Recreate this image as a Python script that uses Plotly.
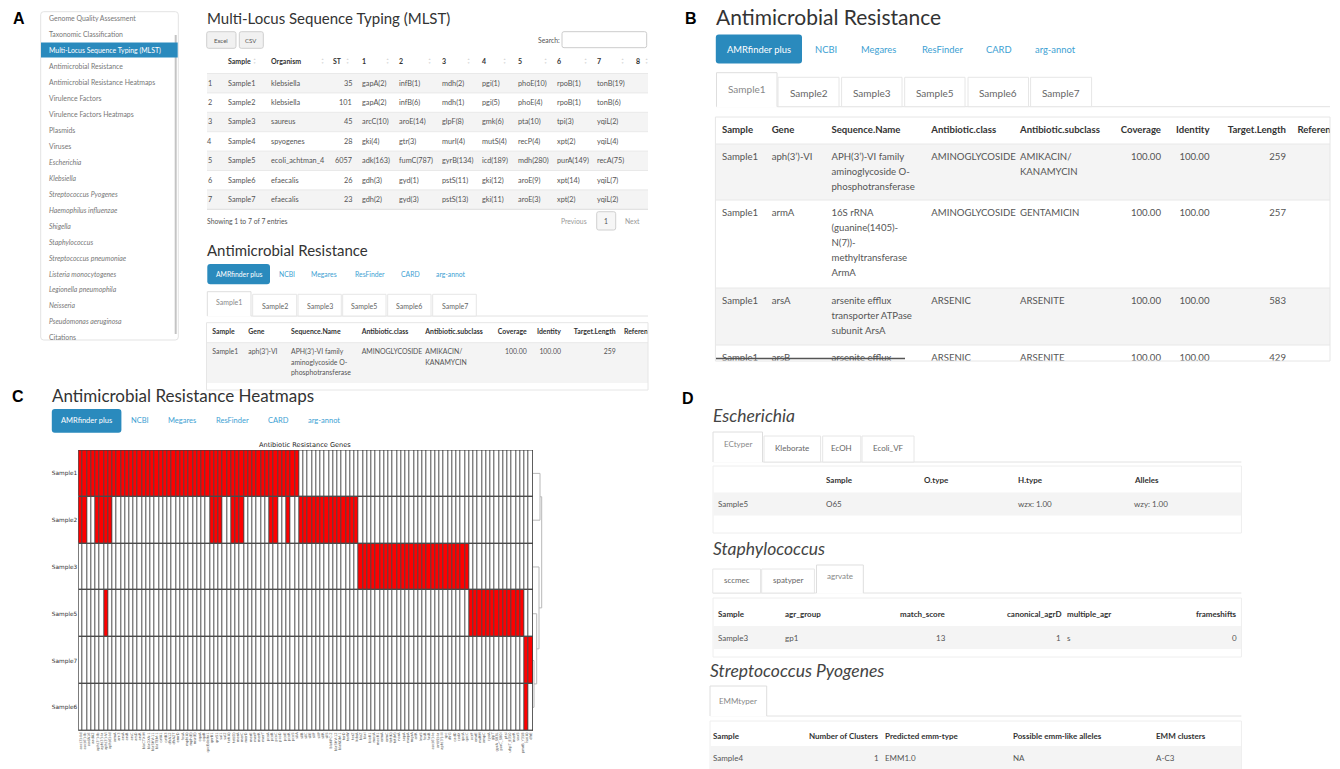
import plotly.graph_objects as go

W, H = 1340, 769

# ---------------------------------------------------------------- data
nav_items = ["Genome Quality Assessment", "Taxonomic Classification",
             "Multi-Locus Sequence Typing (MLST)", "Antimicrobial Resistance",
             "Antimicrobial Resistance Heatmaps", "Virulence Factors",
             "Virulence Factors Heatmaps", "Plasmids", "Viruses", "Escherichia",
             "Klebsiella", "Streptococcus Pyogenes", "Haemophilus influenzae",
             "Shigella", "Staphylococcus", "Streptococcus pneumoniae",
             "Listeria monocytogenes", "Legionella pneumophila", "Neisseria",
             "Pseudomonas aeruginosa", "Citations"]
nav_organisms = nav_items[9:20]
nav_active = "Multi-Locus Sequence Typing (MLST)"

mlst_headers = ["", "Sample", "Organism", "ST", "1", "2", "3", "4", "5", "6", "7", "8"]
mlst_samples = ["Sample1", "Sample2", "Sample3", "Sample4", "Sample5", "Sample6", "Sample7"]
mlst_organism = ["klebsiella", "klebsiella", "saureus", "spyogenes",
                 "ecoli_achtman_4", "efaecalis", "efaecalis"]
mlst_st = [35, 101, 45, 28, 6057, 26, 23]
mlst_alleles = [
    ["gapA(2)", "infB(1)", "mdh(2)", "pgi(1)", "phoE(10)", "rpoB(1)", "tonB(19)"],
    ["gapA(2)", "infB(6)", "mdh(1)", "pgi(5)", "phoE(4)", "rpoB(1)", "tonB(6)"],
    ["arcC(10)", "aroE(14)", "glpF(8)", "gmk(6)", "pta(10)", "tpi(3)", "yqiL(2)"],
    ["gki(4)", "gtr(3)", "murI(4)", "mutS(4)", "recP(4)", "xpt(2)", "yqiL(4)"],
    ["adk(163)", "fumC(787)", "gyrB(134)", "icd(189)", "mdh(280)", "purA(149)", "recA(75)"],
    ["gdh(3)", "gyd(1)", "pstS(11)", "gki(12)", "aroE(9)", "xpt(14)", "yqiL(7)"],
    ["gdh(2)", "gyd(3)", "pstS(13)", "gki(11)", "aroE(3)", "xpt(2)", "yqiL(2)"],
]

amr_tools = ["AMRfinder plus", "NCBI", "Megares", "ResFinder", "CARD", "arg-annot"]
amr_sample_tabs = ["Sample1", "Sample2", "Sample3", "Sample5", "Sample6", "Sample7"]
amr_columns = ["Sample", "Gene", "Sequence.Name", "Antibiotic.class",
               "Antibiotic.subclass", "Coverage", "Identity", "Target.Length", "Reference"]
amr_sample = ["Sample1", "Sample1", "Sample1", "Sample1"]
amr_gene = ["aph(3’)-VI", "armA", "arsA", "arsB"]
amr_seq_name = [["APH(3’)-VI family", "aminoglycoside O-", "phosphotransferase"],
                ["16S rRNA", "(guanine(1405)-", "N(7))-", "methyltransferase", "ArmA"],
                ["arsenite efflux", "transporter ATPase", "subunit ArsA"],
                ["arsenite efflux"]]
amr_class = ["AMINOGLYCOSIDE", "AMINOGLYCOSIDE", "ARSENIC", "ARSENIC"]
amr_subclass = [["AMIKACIN/", "KANAMYCIN"], ["GENTAMICIN"], ["ARSENITE"], ["ARSENITE"]]
amr_coverage = [100.00, 100.00, 100.00, 100.00]
amr_identity = [100.00, 100.00, 100.00, 100.00]
amr_target_length = [259, 257, 583, 429]

heatmap_samples = ["Sample1", "Sample2", "Sample3", "Sample5", "Sample7", "Sample6"]
heatmap_genes = [
    "aac(3)-IId", "aac(6')-Ib", "aadA16", "aadA2", "aph(3'')-Ib", "aph(3')-Ia", "aph(3')-VI",
    "aph(6)-Id", "armA", "arr-3", "arsA", "arsB", "arsC", "arsD", "arsR", "blaCTX-M",
    "blaOXA-1", "blaSHV-11", "blaTEM-1", "catA1", "catB3", "dfrA12", "dfrA27", "emrD", "fosA",
    "mph(A)", "mph(E)", "msr(E)", "oqxA", "oqxB", "qacEdelta1", "qnrB1", "qnrS1", "sul1", "sul2",
    "tet(A)", "tet(D)", "merA", "merC", "merD", "merE", "merP", "merR", "merT", "pcoA", "pcoB",
    "pcoC", "pcoD", "pcoE", "pcoR", "pcoS", "silA",
    "silB", "silC", "silE", "silF", "silP", "silR", "silS", "blaKPC-2", "blaSHV-12", "blaNDM-1",
    "terD", "terW", "terZ", "kdeA",
    "blaZ", "blaI", "blaR1", "mecA", "mecR1", "ermA", "ermC", "tet(K)", "tet(M)", "norA", "sepA",
    "mepA", "mgrA", "arlR", "lmrS", "fosB", "fusB", "aac(6')-Ie", "ant(9)-Ia",
    "aph(3')-III", "spc", "dfrG", "cadD", "cadX", "qacA", "qacC",
    "acrF", "emrE", "mdtM", "ampC", "cyaA", "glpT", "gyrA_S83L", "parC_S80I", "ptsI",
    "uhpT_E350", "marR", "soxS", "pmrB_Y358",
    "lsa(A)", "dfrE"]
# gene presence per sample, written in blocks of ten genes
presence = {
    "Sample1": "1111111111 1111111111 1111111111 1111111111 1111111111 1100000000 0000000000 0000000000 0000000000 0000000000 0000000",
    "Sample2": "1100111100 0000000000 0000000000 0111001110 0000011001 0011111111 1111110000 0000000000 0000000000 0000000000 0000000",
    "Sample3": "0000000000 0000000000 0000000000 0000000000 0000000000 0000000000 0000001111 1111111111 1111111111 1100000000 0000000",
    "Sample5": "0000001000 0000000000 0000000000 0000000000 0000000000 0000000000 0000000000 0000000000 0000000000 0011111111 1111100",
    "Sample7": "0000000000 0000000000 0000000000 0000000000 0000000000 0000000000 0000000000 0000000000 0000000000 0000000000 0000011",
    "Sample6": "0000000000 0000000000 0000000000 0000000000 0000000000 0000000000 0000000000 0000000000 0000000000 0000000000 0000010",
}
# hierarchical clustering of the samples: (left, right, height, node)
dendro_merges = [("Sample7", "Sample6", 1.0, "n1"),
                 ("Sample5", "n1", 3.7, "n2"),
                 ("Sample3", "n2", 6.0, "n3"),
                 ("Sample1", "Sample2", 7.0, "n4"),
                 ("n4", "n3", 8.7, "n5")]

esc_tabs = ["ECtyper", "Kleborate", "EcOH", "Ecoli_VF"]
esc_header = ["", "Sample", "O.type", "H.type", "Alleles"]
esc_row = ["Sample5", "O65", "", "wzx: 1.00", "wzy: 1.00"]
staph_tabs = ["sccmec", "spatyper", "agrvate"]
staph_header = ["Sample", "agr_group", "match_score", "canonical_agrD", "multiple_agr", "frameshifts"]
staph_row = ["Sample3", "gp1", "13", "1", "s", "0"]
strep_tabs = ["EMMtyper"]
strep_header = ["Sample", "Number of Clusters", "Predicted emm-type",
                "Possible emm-like alleles", "EMM clusters"]
strep_row = ["Sample4", "1", "EMM1.0", "NA", "A-C3"]

# ---------------------------------------------------------------- style
FONT = "Lato, 'Open Sans', sans-serif"
MPL = "'DejaVu Sans', sans-serif"
LETTER = "'Liberation Sans', Arial, sans-serif"
BLUE = "#2a8abd"
LINK = "#3d9fd3"
TXT = "#555555"
HEAD = "#333333"
STRIPE = "#f4f4f4"
LINE = "#e4e4e4"

shapes, annotations = [], []
clip_text = {}


def X(v):
    return v / W


def Y(v):
    return 1 - v / H


def label(x, y, s, size, color=TXT, anchor="left", bold=False, italic=False, family=FONT):
    if bold:
        s = "<b>%s</b>" % s
    if italic:
        s = "<i>%s</i>" % s
    annotations.append(dict(x=X(x), y=Y(y), xref="paper", yref="paper", text=s,
                            showarrow=False, xanchor=anchor, yanchor="middle",
                            borderpad=0, borderwidth=0,
                            font=dict(family=family, size=size, color=color)))


def rect(x0, y0, x1, y1, fill="rgba(0,0,0,0)", line=None, lw=1):
    shapes.append(dict(type="rect", xref="paper", yref="paper", x0=X(x0), x1=X(x1),
                       y0=Y(y0), y1=Y(y1), fillcolor=fill,
                       line=dict(color=line or "rgba(0,0,0,0)", width=lw if line else 0)))


def hline(x0, x1, y, color=LINE, lw=1):
    shapes.append(dict(type="line", xref="paper", yref="paper", x0=X(x0), x1=X(x1),
                       y0=Y(y), y1=Y(y), line=dict(color=color, width=lw)))


def vline(x, y0, y1, color=LINE, lw=1):
    shapes.append(dict(type="line", xref="paper", yref="paper", x0=X(x), x1=X(x),
                       y0=Y(y0), y1=Y(y1), line=dict(color=color, width=lw)))


def rrect(x0, y0, x1, y1, r, fill, line=None, lw=1):
    p = ("M%f,%f L%f,%f Q%f,%f %f,%f L%f,%f Q%f,%f %f,%f L%f,%f Q%f,%f %f,%f "
         "L%f,%f Q%f,%f %f,%f Z" % (
             X(x0 + r), Y(y0), X(x1 - r), Y(y0), X(x1), Y(y0), X(x1), Y(y0 + r),
             X(x1), Y(y1 - r), X(x1), Y(y1), X(x1 - r), Y(y1),
             X(x0 + r), Y(y1), X(x0), Y(y1), X(x0), Y(y1 - r),
             X(x0), Y(y0 + r), X(x0), Y(y0), X(x0 + r), Y(y0)))
    shapes.append(dict(type="path", xref="paper", yref="paper", path=p, fillcolor=fill,
                       line=dict(color=line or "rgba(0,0,0,0)", width=lw if line else 0)))


def ctext(ax, x, y, s, size, color=TXT, anchor="left", bold=False):
    if bold:
        s = "<b>%s</b>" % s
    key = (ax, anchor, size, color)
    clip_text.setdefault(key, ([], [], []))
    clip_text[key][0].append(x)
    clip_text[key][1].append(y)
    clip_text[key][2].append(s)


def cband(ax, x0, x1, y0, y1, fill):
    shapes.append(dict(type="rect", xref="x" + ax, yref="y" + ax, x0=x0, x1=x1, y0=y0, y1=y1,
                       fillcolor=fill, line=dict(width=0), layer="below"))


def tool_row(btn, centers, y, size):
    rrect(btn[0], btn[1], btn[2], btn[3], 3, BLUE)
    for i, name in enumerate(amr_tools):
        label(centers[i], y, name, size, "#ffffff" if i == 0 else LINK, anchor="center")


def tab_row(names, boxes, active, tops, bottom, text_y, x_end, size):
    hline(boxes[0][0], x_end, bottom, "#e2e2e2")
    for i, name in enumerate(names):
        x0, x1 = boxes[i]
        if i == active:
            rect(x0, tops[0], x1, bottom + 0.8, "#ffffff")
            shapes.append(dict(type="path", xref="paper", yref="paper",
                               path="M%f,%f L%f,%f L%f,%f L%f,%f" % (
                                   X(x0), Y(bottom), X(x0), Y(tops[0]),
                                   X(x1), Y(tops[0]), X(x1), Y(bottom)),
                               line=dict(color="#dedede", width=1)))
            label((x0 + x1) / 2, text_y[0], name, size, "#888888", anchor="center")
        else:
            rect(x0, tops[1], x1, bottom, "#ffffff", "#e6e6e6")
            label((x0 + x1) / 2, text_y[1], name, size, "#666666", anchor="center")


# ---------------------------------------------------------------- panel letters
for ch, (lx, ly) in {"A": (19, 18), "B": (691, 18), "C": (18, 396), "D": (688, 398)}.items():
    label(lx, ly, ch, 16, "#000000", anchor="center", bold=True, family=LETTER)

# ---------------------------------------------------------------- panel A : sidebar
rrect(40.7, 11.7, 178.3, 340, 3, "#ffffff", "#e3e3e3")
vline(175.7, 35, 334, "#c4c4c4", 2)
for i, item in enumerate(nav_items):
    yy = 18.3 + 15.95 * i
    if item == nav_active:
        rect(41, yy - 7.6, 177.7, yy + 7.4, BLUE)
    label(49.3, yy, item, 6.9, "#ffffff" if item == nav_active else "#777777",
          italic=item in nav_organisms)

# ---------------------------------------------------------------- panel A : MLST table
label(207, 18.5, "Multi-Locus Sequence Typing (MLST)", 15, HEAD)
for (bx0, bx1, name) in [(206.7, 236, "Excel"), (239.3, 263.3, "CSV")]:
    rrect(bx0, 31.7, bx1, 48.3, 2, "#f1f1f1", "#cfcfcf")
    label((bx0 + bx1) / 2, 40, name, 6, TXT, anchor="center")
label(560, 40, "Search:", 6.8, TXT, anchor="right")
rrect(562, 31.7, 646.7, 47.7, 2, "#ffffff", "#cccccc")

mlst_x = [209.5, 228, 270.7, 351.7, 361.7, 399, 442, 482, 518, 557, 597, 635.7]
mlst_anchor = ["center", "left", "left", "right"] + ["left"] * 8
sort_x = [254.7, 322, 347, 387.7, 429, 469, 504, 545, 585, 622.7, 646]
for j, h in enumerate(mlst_headers):
    if j == 3:
        label(333, 61, h, 7, HEAD, bold=True)
    else:
        label(mlst_x[j], 61, h, 7, HEAD, anchor=mlst_anchor[j], bold=True)
for sx in sort_x:
    label(sx, 58.8, "▲", 3.2, "#d6d6d6", anchor="center")
    label(sx, 63.2, "▼", 3.2, "#d6d6d6", anchor="center")
row_h = 19.4
for i, smp in enumerate(mlst_samples):
    top = 73.5 + row_h * i
    if i % 2 == 0:
        rect(207, top, 648, top + row_h, STRIPE)
    hline(207, 648, top, "#e9e9e9")
    yy = top + row_h / 2
    cells = [str(i + 1), smp, mlst_organism[i], str(mlst_st[i])] + mlst_alleles[i] + [""]
    for j, c in enumerate(cells):
        if c:
            label(mlst_x[j], yy, c, 7.3, TXT, anchor=mlst_anchor[j])
hline(207, 648, 73.5 + row_h * 7, "#dddddd")
label(207, 220.5, "Showing 1 to 7 of 7 entries", 6.8, TXT)
label(574, 221, "Previous", 6.8, "#999999", anchor="center")
rrect(596.7, 211.7, 615.7, 230, 2, "#f6f6f6", "#d0d0d0")
label(606.2, 221, "1", 6.8, TXT, anchor="center")
label(632, 221, "Next", 6.8, "#999999", anchor="center")

# ---------------------------------------------------------------- panel A : AMR table
label(207, 250, "Antimicrobial Resistance", 15, HEAD)
tool_row((207.3, 264, 270, 284.3), [238.7, 286.7, 324.3, 369.7, 410.7, 451.3], 274.3, 6.8)
tab_row(amr_sample_tabs,
        [(207.3, 251), (252.7, 296.7), (298, 341.3), (342.7, 386), (387.7, 431), (432.7, 476.3)],
        0, (291.7, 294.3), 316, (302.3, 305.7), 648, 7)


def amr_table(ax, xs, anchors, head_y, row_tops, first, line_h, size, hsize, x0, x1, bottom):
    for j, h in enumerate(amr_columns):
        ctext(ax, xs[j], head_y, h, hsize, HEAD, anchors[j], bold=True)
    for i in range(len(row_tops)):
        top = row_tops[i]
        nxt = row_tops[i + 1] if i + 1 < len(row_tops) else bottom + 40
        cband(ax, x0, x1, top, nxt, STRIPE if i % 2 == 0 else "#ffffff")
        shapes.append(dict(type="line", xref="x" + ax, yref="y" + ax, x0=x0, x1=x1, y0=top,
                           y1=top, line=dict(color="#e8e8e8", width=1), layer="below"))
        y0 = top + first
        cells = [[amr_sample[i]], [amr_gene[i]], amr_seq_name[i], [amr_class[i]],
                 amr_subclass[i], ["%.2f" % amr_coverage[i]], ["%.2f" % amr_identity[i]],
                 [str(amr_target_length[i])], []]
        for j, lines in enumerate(cells):
            for k, s in enumerate(lines):
                ctext(ax, xs[j], y0 + k * line_h, s, size, TXT, anchors[j])


amr_anchor = ["left"] * 5 + ["right"] * 3 + ["left"]
rect(206.5, 322.7, 648, 390, "rgba(0,0,0,0)", "#e6e6e6")
amr_table("3", [212.3, 248.3, 291, 361.7, 425.3, 526.7, 561, 615.7, 624], amr_anchor,
          332.5, [342.7], 10, 10.3, 6.9, 6.9, 207, 648, 383)

# ---------------------------------------------------------------- panel B
label(715.5, 17, "Antimicrobial Resistance", 21, HEAD)
tool_row((715.8, 34.5, 802, 63.5), [759, 826, 878.7, 942, 999, 1055.8], 49.5, 9.4)
tab_row(amr_sample_tabs,
        [(716.5, 777), (778, 839), (841.6, 902), (904.7, 965), (968, 1028.5), (1030.6, 1091.6)],
        0, (72.7, 77.3), 106.7, (89.3, 92.7), 1330, 10)
rect(715.4, 117, 1330, 361, "rgba(0,0,0,0)", "#e6e6e6")
amr_table("4", [722, 771.7, 831.5, 931.3, 1020, 1161, 1209.5, 1286, 1297.4], amr_anchor,
          131, [144, 200, 288, 345], 13.5, 15, 9.6, 9.6, 715.4, 1330, 361)
hline(716, 905, 358.5, "#555555", 1.4)

# ---------------------------------------------------------------- panel C
label(51.5, 395, "Antimicrobial Resistance Heatmaps", 17, HEAD)
tool_row((51.8, 409, 121.4, 432.7), [86.6, 140, 182, 232, 278.6, 324], 420.8, 7.5)
label(305, 444.5, "Antibiotic Resistance Genes", 6.6, "#222222", anchor="center", family=MPL)

z = [[int(c) for c in presence[s].replace(" ", "")] for s in heatmap_samples]
n_genes = len(heatmap_genes)
shapes.append(dict(type="rect", xref="x", yref="y", x0=-0.5, x1=n_genes - 0.5, y0=-0.5,
                   y1=len(heatmap_samples) - 0.5, fillcolor="#4a4a4a", line=dict(width=0),
                   layer="below"))
shapes.append(dict(type="rect", xref="x", yref="y", x0=-0.5, x1=n_genes - 0.5, y0=-0.5,
                   y1=len(heatmap_samples) - 0.5, line=dict(color="#3a3a3a", width=1)))

heat = go.Heatmap(z=z, x=list(range(n_genes)), y=list(range(len(heatmap_samples))),
                  colorscale=[[0, "#ffffff"], [1, "#ff0000"]], zmin=0, zmax=1,
                  xgap=1, ygap=1.4, showscale=False, hoverinfo="skip")

# dendrogram segments from the merge table
pos = {s: (i, 0.0) for i, s in enumerate(heatmap_samples)}
dx, dy = [], []
for left, right, h, node in dendro_merges:
    (yl, hl), (yr, hr) = pos[left], pos[right]
    dx += [hl, h, h, hr, None]
    dy += [yl, yl, yr, yr, None]
    pos[node] = ((yl + yr) / 2, h)
dendro = go.Scatter(x=dx, y=dy, mode="lines", line=dict(color="#b8b8b8", width=1),
                    xaxis="x2", yaxis="y", hoverinfo="skip")

# ---------------------------------------------------------------- panel D
label(712.5, 415, "Escherichia", 17.5, "#444444", italic=True)
tab_row(esc_tabs, [(713, 762.5), (764, 820.6), (822.7, 860.8), (862, 914)], 0,
        (432, 436), 462, (444, 448), 1241.4, 8)
rect(713, 466, 1241.4, 533, "rgba(0,0,0,0)", "#eeeeee")
esc_x = [718, 826, 924, 1017.5, 1133.6]
for j, h in enumerate(esc_header):
    if h:
        label(esc_x[j], 479.5, h, 8, HEAD, bold=True)
rect(713.5, 492.5, 1241, 515.5, STRIPE)
for j, c in enumerate(esc_row):
    if c:
        label(esc_x[j], 504, c, 8, TXT)

label(712.5, 548, "Staphylococcus", 17.5, "#444444", italic=True)
tab_row(staph_tabs, [(712.8, 760.5), (761.7, 814.4), (816.5, 863.3)], 2,
        (565, 569), 593, (576, 580), 1241.4, 8)
rect(713, 598, 1241.4, 657, "rgba(0,0,0,0)", "#eeeeee")
staph_x = [718, 784.5, 946.2, 1061, 1066.5, 1237]
staph_anchor = ["left", "left", "right", "right", "left", "right"]
for j, h in enumerate(staph_header):
    label(staph_x[j], 614, h, 8, HEAD, anchor=staph_anchor[j], bold=True)
rect(713.5, 626, 1241, 649, STRIPE)
for j, c in enumerate(staph_row):
    label(staph_x[j], 637.5, c, 8, TXT, anchor=staph_anchor[j])

label(710, 670, "Streptococcus Pyogenes", 17.5, "#444444", italic=True)
tab_row(strep_tabs, [(710, 766.7)], 0, (686, 690), 716, (701, 704), 1241.4, 8)
rect(710, 721, 1241.4, 775, "rgba(0,0,0,0)", "#eeeeee")
strep_x = [712.8, 878.6, 884.9, 1013.4, 1156.4]
strep_anchor = ["left", "right", "left", "left", "left"]
for j, h in enumerate(strep_header):
    label(strep_x[j], 735.5, h, 8, HEAD, anchor=strep_anchor[j], bold=True)
rect(710.5, 746, 1241, 769, STRIPE)
for j, c in enumerate(strep_row):
    label(strep_x[j], 757.5, c, 8, TXT, anchor=strep_anchor[j])

# ---------------------------------------------------------------- clipped table text traces
traces = [heat, dendro]
pos_map = {"left": "middle right", "right": "middle left", "center": "middle center"}
for (ax, anchor, size, color), (xs, ys, ts) in clip_text.items():
    traces.append(go.Scatter(x=xs, y=ys, text=ts, mode="text", textposition=pos_map[anchor],
                             textfont=dict(family=FONT, size=size, color=color),
                             marker=dict(size=0), cliponaxis=True, hoverinfo="skip",
                             xaxis="x" + ax, yaxis="y" + ax))

fig = go.Figure(data=traces)
hidden = dict(visible=False, showgrid=False, zeroline=False, fixedrange=True)
fig.update_layout(
    width=W, height=H, margin=dict(l=0, r=0, t=0, b=0), autosize=False,
    paper_bgcolor="#ffffff", plot_bgcolor="rgba(0,0,0,0)", showlegend=False,
    xaxis=dict(domain=[X(78.3), X(533)], anchor="y", range=[-0.5, n_genes - 0.5],
               tickmode="array", tickvals=list(range(n_genes)), ticktext=heatmap_genes,
               tickangle=-90, tickfont=dict(family=MPL, size=3.6, color="#555555"),
               ticks="", showgrid=False, zeroline=False, showline=False, automargin=False,
               fixedrange=True),
    yaxis=dict(domain=[Y(730.7), Y(450)], anchor="x", range=[len(heatmap_samples) - 0.5, -0.5],
               tickmode="array", tickvals=list(range(len(heatmap_samples))),
               ticktext=heatmap_samples, tickfont=dict(family=MPL, size=5.8, color="#333333"),
               ticks="", showgrid=False, zeroline=False, showline=False, automargin=False,
               fixedrange=True),
    xaxis2=dict(domain=[X(533), X(546)], anchor="y", range=[0, 13], **hidden),
    xaxis3=dict(domain=[X(207), X(648)], anchor="y3", range=[207, 648], **hidden),
    yaxis3=dict(domain=[Y(383), Y(322.7)], anchor="x3", range=[383, 322.7], **hidden),
    xaxis4=dict(domain=[X(715.4), X(1330)], anchor="y4", range=[715.4, 1330], **hidden),
    yaxis4=dict(domain=[Y(361), Y(117)], anchor="x4", range=[361, 117], **hidden),
    shapes=shapes, annotations=annotations,
)
fig.write_html("out.html")
